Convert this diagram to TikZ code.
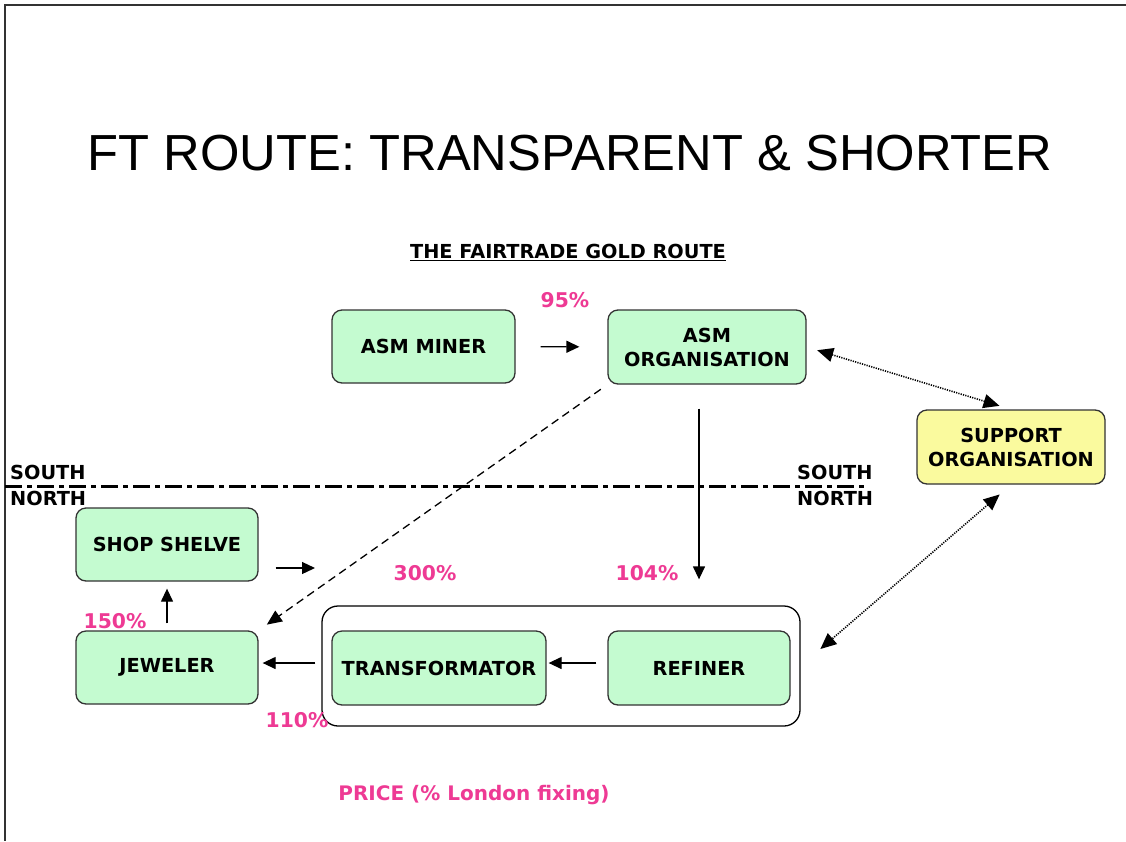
\documentclass[tikz,border=0pt]{standalone}
\usepackage{fontspec}
\setmainfont{DejaVu Sans}
\newfontfamily\titlefont{Liberation Sans}
\usetikzlibrary{arrows.meta}
\definecolor{boxgreen}{HTML}{C4FBD0}
\definecolor{boxyellow}{HTML}{FAFA9E}
\definecolor{pinktext}{HTML}{EE3A94}
\definecolor{edgegray}{HTML}{333333}
\tikzset{
  base/.style={font=\bfseries\fontsize{19.3}{24}\selectfont, text=black},
  box/.style={base, draw=edgegray, line width=1.3pt, rounded corners=10pt, fill=boxgreen, align=center, inner sep=0pt},
  ybox/.style={box, fill=boxyellow},
  pct/.style={font=\bfseries\fontsize{20.3}{22}\selectfont, text=pinktext},
  lbl/.style={base, inner sep=0pt},
  arr/.style={line width=1.3pt, -{Triangle[length=13pt,width=12pt]}},
  darr/.style={line width=1.3pt, dash pattern=on 8pt off 5pt, -{Triangle[length=15pt,width=13pt]}},
  dotarr/.style={line width=1.6pt, dash pattern=on 1.2pt off 1.2pt, {Triangle[length=16pt,width=14pt]}-{Triangle[length=16pt,width=14pt]}},
}
\begin{document}
\begin{tikzpicture}[x=1pt,y=-1pt]
\useasboundingbox (0,0) rectangle (1126,841);
\fill[white] (0,0) rectangle (1126,841);
% frame
\draw[edgegray, line width=1.5pt] (1126,5) -- (5,5) -- (5,841);
% title
\node[font=\titlefont\fontsize{50.7}{56}\selectfont] (title) at (570,153) {FT ROUTE: TRANSPARENT \& SHORTER};
\node[lbl] (heading) at (568,252) {\underline{THE FAIRTRADE GOLD ROUTE}};
% boxes
\node[box, minimum width=183pt, minimum height=73pt] (miner) at (423.5,346.5) {ASM MINER};
\node[box, minimum width=198pt, minimum height=74pt] (org) at (707,347) {ASM\\ORGANISATION};
\node[ybox, minimum width=188pt, minimum height=74pt] (support) at (1011,447) {SUPPORT\\ORGANISATION};
\node[box, minimum width=182pt, minimum height=73pt] (shop) at (167,544.5) {SHOP SHELVE};
\node[box, minimum width=182pt, minimum height=73pt] (jeweler) at (167,667.5) {JEWELER};
\node[draw=black, line width=1.3pt, rounded corners=16pt, minimum width=478pt, minimum height=120pt, inner sep=0pt] (container) at (561,666) {};
\node[box, minimum width=214pt, minimum height=74pt] (transf) at (439,668) {TRANSFORMATOR};
\node[box, minimum width=182pt, minimum height=74pt] (refiner) at (699,668) {REFINER};
% south/north
\coordinate (lineL) at (5,486);
\coordinate (lineR) at (868,486);
\draw[line width=3pt, dash pattern=on 17pt off 5pt on 5pt off 5pt] (lineL) -- (lineR);
\node[lbl, anchor=west] (southL) at (10,472) {SOUTH};
\node[lbl, anchor=west] (northL) at (10,498) {NORTH};
\node[lbl, anchor=west] (southR) at (797,472) {SOUTH};
\node[lbl, anchor=west] (northR) at (797,498) {NORTH};
% percentages
\node[pct] (p95) at (565,300) {95\%};
\node[pct] (p300) at (425,573) {300\%};
\node[pct] (p104) at (647,573) {104\%};
\node[pct] (p150) at (115,621) {150\%};
\node[pct] (p110) at (297,720) {110\%};
\node[pct, font=\bfseries\fontsize{20}{22}\selectfont] (price) at (474,795) {PRICE (\% London fixing)};
% connectors
\draw[arr, shorten <=25pt, shorten >=28pt] (miner) -- (org);
\draw[arr, shorten <=24pt, shorten >=26pt] (org.south -| refiner.center) -- (container.north -| refiner.center);
\draw[darr, shorten <=8pt, shorten >=10pt] (org.south west) -- (jeweler.north east);
\draw[dotarr, shorten <=11pt, shorten >=12pt] (org.east) -- (support.north);
\draw[dotarr, shorten <=15pt, shorten >=26pt] (support.south) -- (container.east);
\coordinate (tarr) at ([yshift=5pt]transf.east);
\draw[arr, shorten <=11pt, shorten >=2pt] (refiner.west |- tarr) -- (tarr);
\coordinate (jarr) at ([yshift=4.5pt]jeweler.east);
\draw[arr, shorten <=6pt, shorten >=4pt] (container.west |- jarr) -- (jarr);
\draw[arr, shorten <=7pt, shorten >=7pt] (jeweler.north) -- (shop.south);
\coordinate (shopend) at (315,568);
\draw[arr, shorten <=17pt] (shop.east |- shopend) -- (shopend);
\end{tikzpicture}
\end{document}
